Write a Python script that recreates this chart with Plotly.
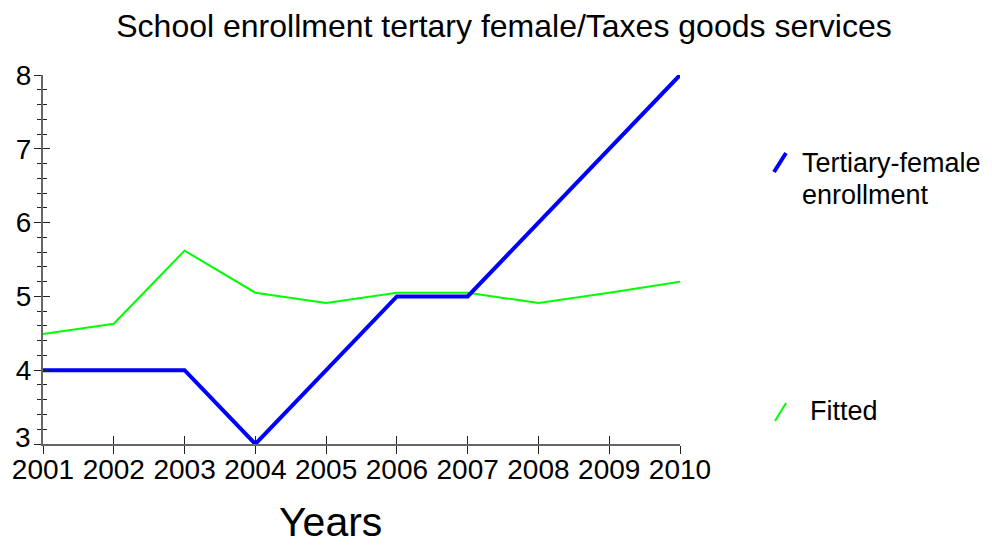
import plotly.graph_objects as go

years = [2001, 2002, 2003, 2004, 2005, 2006, 2007, 2008, 2009, 2010]
tertiary_female = [4, 4, 4, 3, 4, 5, 5, 6, 7, 8]
fitted = [4.49, 4.63, 5.62, 5.05, 4.91, 5.05, 5.05, 4.91, 5.05, 5.20]
y_ticks = [3, 4, 5, 6, 7, 8]
title_text = "School enrollment tertary female/Taxes goods services"
x_title = "Years"
legend_names = [["Tertiary-female", "enrollment"], ["Fitted"]]

FONT = "Liberation Sans, Arial, sans-serif"
AX = "#666666"

# the page body has an 8px margin, so the figure is drawn 8px in from the corner
O = 8
W, H = 992 - O, 548 - O
L, R, T, B = 43 - O, 312, 75 - O, 104
PW, PH = W - L - R, H - T - B

fig = go.Figure()
fig.add_trace(go.Scatter(x=years, y=fitted, mode="lines", hoverinfo="skip",
                         line=dict(color="#00ff00", width=2), showlegend=False))
fig.add_trace(go.Scatter(x=years, y=tertiary_female, mode="lines",
                         line=dict(color="#0000ff", width=4), showlegend=False))
# carrier for the overlay axes that draw the inner half of the crossing ticks
fig.add_trace(go.Scatter(x=years[:1], y=y_ticks[:1], xaxis="x2", yaxis="y2",
                         mode="markers", marker=dict(size=0, opacity=0),
                         hoverinfo="skip", showlegend=False))

# page pixel -> paper fraction
def fx(xp): return (xp - O - L) / PW
def fy(yp): return (H - B - (yp - O)) / PH

# manual legend with diagonal symbols
fig.add_shape(type="line", xref="paper", yref="paper",
              x0=fx(774), x1=fx(786), y0=fy(172), y1=fy(153),
              line=dict(color="#0000ff", width=4))
fig.add_shape(type="line", xref="paper", yref="paper",
              x0=fx(775), x1=fx(786), y0=fy(421), y1=fy(403),
              line=dict(color="#00ff00", width=2))
for line_text, yc in zip(legend_names[0], [163, 195]):
    fig.add_annotation(xref="paper", yref="paper", x=fx(800), y=fy(yc),
                       xanchor="left", yanchor="middle", text=line_text, showarrow=False,
                       font=dict(family=FONT, size=27, color="black"))
fig.add_annotation(xref="paper", yref="paper", x=fx(808), y=fy(411),
                   xanchor="left", yanchor="middle", text=legend_names[1][0], showarrow=False,
                   font=dict(family=FONT, size=27, color="black"))
fig.add_annotation(xref="paper", yref="paper", x=fx(330), y=fy(522),
                   xanchor="center", yanchor="middle", text=x_title, showarrow=False,
                   font=dict(family=FONT, size=41, color="black"))

# lowest y label is nudged up (as in the reference) so it clears the year labels
y_ticktext = ["" if v == y_ticks[0] else str(v) for v in y_ticks]
fig.add_annotation(xref="paper", yref="y", x=0, y=y_ticks[0], xanchor="right",
                   yanchor="middle", xshift=-10, yshift=7, text=str(y_ticks[0]),
                   showarrow=False, font=dict(family=FONT, size=28, color="black"))

fig.update_layout(
    width=W, height=H,
    margin=dict(l=L, r=R, t=T, b=B, pad=0),
    paper_bgcolor="white", plot_bgcolor="white",
    title=dict(text=title_text, x=(504 - O) / W, xref="container", xanchor="center",
               y=1 - (26 - O) / H, yref="container", yanchor="middle",
               font=dict(family=FONT, size=32, color="black")),
    font=dict(family=FONT, color="black"),
    xaxis=dict(range=[2001, 2010], tickvals=years, ticktext=[str(y) for y in years],
               automargin=False,
               showgrid=False, zeroline=False, showline=True, linecolor=AX, linewidth=2,
               ticks="outside", ticklen=8, tickwidth=1, tickcolor="#222222",
               ticklabelstandoff=-9,
               tickfont=dict(family=FONT, size=28)),
    yaxis=dict(range=[3, 8], tickvals=y_ticks, ticktext=y_ticktext,
               showgrid=False, zeroline=False,
               automargin=False,
               showline=True, linecolor=AX, linewidth=2,
               ticks="outside", ticklen=7, tickwidth=1, tickcolor="#222222",
               ticklabelstandoff=-3,
               tickfont=dict(family=FONT, size=28),
               minor=dict(dtick=0.2, ticks="outside", ticklen=4, tickcolor="#222222", tickwidth=1)),
    xaxis2=dict(range=[2001, 2010], tickvals=years, overlaying="x", anchor="y", side="bottom",
                automargin=False,
                showgrid=False, zeroline=False, showline=False, showticklabels=False,
                ticks="inside", ticklen=8, tickwidth=1, tickcolor="#222222"),
    yaxis2=dict(range=[3, 8], tickvals=y_ticks, overlaying="y", anchor="x", side="left",
                automargin=False,
                showgrid=False, zeroline=False, showline=False, showticklabels=False,
                ticks="inside", ticklen=7, tickwidth=1, tickcolor="#222222",
                minor=dict(dtick=0.2, ticks="inside", ticklen=4, tickcolor="#222222", tickwidth=1)),
)

fig.write_html("out.html")
